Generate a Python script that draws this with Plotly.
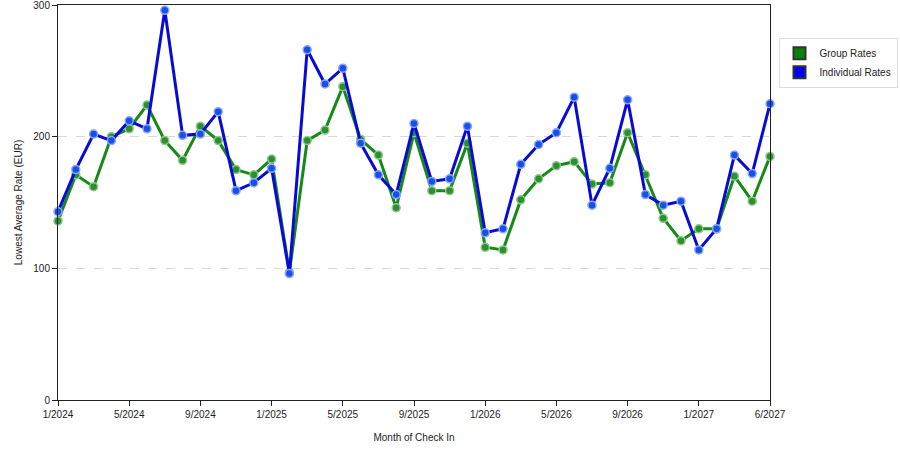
import plotly.graph_objects as go

# months of check in (category axis, labelled every 4th point)
months = [f"{m}/2024" for m in range(1, 13)] + [f"{m}/2025" for m in range(1, 13)] + \
         [f"{m}/2026" for m in range(1, 13)] + ["1/2027", "2/2027", "3/2027", "4/2027", "6/2027"]

group_rates = [136, 171, 162, 200, 206, 224, 197, 182, 208, 197, 175, 171, 183, 97,
               197, 205, 238, 198, 186, 146, 203, 159, 159, 195, 116, 114, 152, 168,
               178, 181, 164, 165, 203, 171, 138, 121, 130, 130, 170, 151, 185]
individual_rates = [143, 175, 202, 197, 212, 206, 296, 201, 202, 219, 159, 165, 176, 96,
                    266, 240, 252, 195, 171, 156, 210, 166, 168, 208, 127, 130, 179, 194,
                    203, 230, 148, 176, 228, 156, 148, 151, 114, 130, 186, 172, 225]

tick_labels = ["1/2024", "5/2024", "9/2024", "1/2025", "5/2025", "9/2025",
               "1/2026", "5/2026", "9/2026", "1/2027", "6/2027"]

green = "#158a15"
blue = "#0a0ad8"

fig = go.Figure()

fig.add_trace(go.Scatter(
    x=months, y=group_rates, mode="lines+markers", name="Group Rates",
    line=dict(color=green, width=3),
    marker=dict(size=8, color="#2e8f2e", line=dict(color="#8fc88f", width=1.5)),
    showlegend=False, cliponaxis=False
))
fig.add_trace(go.Scatter(
    x=months, y=individual_rates, mode="lines+markers", name="Individual Rates",
    line=dict(color=blue, width=3),
    marker=dict(size=8, color="#1a4ee6", line=dict(color="#86a8ff", width=1.5)),
    showlegend=False, cliponaxis=False
))

# legend-only entries with square swatches
for name, col in [("Group Rates", "#0b800b"), ("Individual Rates", "#0000ff")]:
    fig.add_trace(go.Scatter(
        x=[None], y=[None], mode="markers", name=name,
        marker=dict(symbol="square", size=13, color=col, line=dict(color="#333333", width=1))
    ))

fig.update_layout(
    width=900, height=450,
    margin=dict(l=58, r=130, t=5, b=50, autoexpand=False),
    paper_bgcolor="white", plot_bgcolor="white",
    font=dict(family="Liberation Sans, Arial, sans-serif", size=10, color="#222222"),
    legend=dict(xref="container", yref="container", x=0.865, y=0.916,
                xanchor="left", yanchor="top",
                bordercolor="#dddddd", borderwidth=1, bgcolor="white",
                font=dict(size=10), itemsizing="constant", itemwidth=30, tracegroupgap=2),
)

fig.update_xaxes(
    type="category", range=[0, len(months) - 1], automargin=False,
    tickmode="array", tickvals=[months[i] for i in range(0, len(months), 4)],
    ticktext=tick_labels,
    ticks="outside", ticklen=5, tickcolor="#222222",
    showline=True, linecolor="#222222", linewidth=1, mirror=True,
    showgrid=False, zeroline=False,
    title=dict(text="Month of Check In", font=dict(size=10), standoff=14),
)
fig.update_yaxes(
    range=[0, 300], tickvals=[0, 100, 200, 300], ticklabeloverflow="allow", automargin=False,
    ticks="outside", ticklen=5, tickcolor="#222222",
    showline=True, linecolor="#222222", linewidth=1, mirror=True,
    showgrid=True, gridcolor="#d8d8d8", griddash="dash", gridwidth=1,
    zeroline=False,
    title=dict(text="Lowest Average Rate (EUR)", font=dict(size=10), standoff=8),
)

# drop the default page margin so the figure sits at the window's corner
fig.write_html("out.html", config={"displayModeBar": False},
               post_script="document.body.style.margin = '0';")
